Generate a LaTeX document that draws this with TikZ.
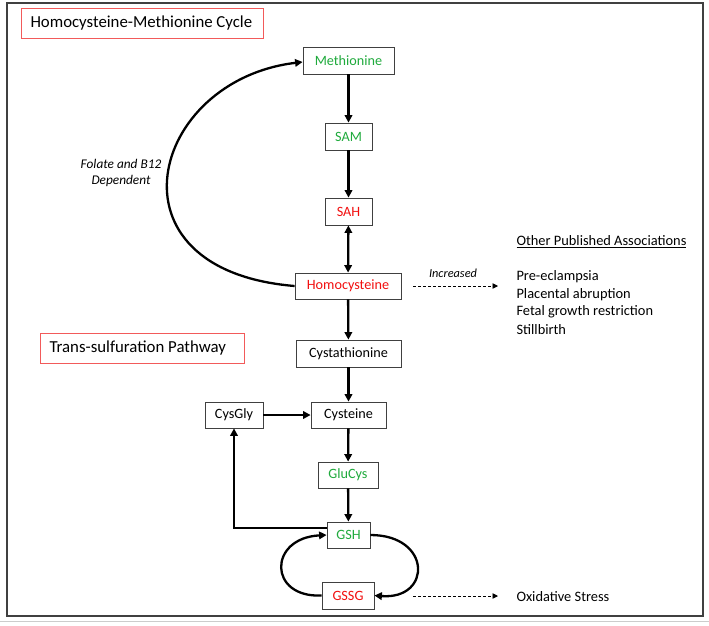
\documentclass[tikz,border=0pt]{standalone}
\usepackage{fontspec}
\setmainfont{Carlito}
\usetikzlibrary{arrows.meta}
\definecolor{mgreen}{HTML}{1FAA3C}
\definecolor{mred}{HTML}{F20F0F}
\definecolor{tred}{HTML}{F25A5A}
\definecolor{bgrey}{HTML}{404040}
\tikzset{
  mbox/.style={draw=bgrey, line width=0.8pt, rectangle, inner sep=0pt, font=\fontsize{14.2}{16}\selectfont, fill=white},
  tbox/.style={draw=tred, line width=0.8pt, rectangle, inner sep=0pt, anchor=north west},
  ttext/.style={font=\fontsize{16.8}{19}\selectfont, anchor=west},
  flow/.style={line width=2.3pt, -{Triangle[length=7.5pt,width=7.5pt]}},
  dflow/.style={line width=0.7pt, dash pattern=on 3pt off 2pt, -{Triangle[length=5.5pt,width=5.5pt]}},
  plain/.style={font=\fontsize{14.4}{16}\selectfont},
  lab/.style={font=\fontsize{13.3}{15.5}\selectfont\itshape},
}
\begin{document}
\begin{tikzpicture}[x=1pt,y=-1pt]
\useasboundingbox (0,0) rectangle (709,625);
\fill[white] (0,0) rectangle (709,625);
\draw[black!20, line width=1pt] (0,621) -- (709,621);
\draw[bgrey, line width=1.6pt] (7,3) rectangle (703,616);

% titles
\node[tbox, minimum width=242pt, minimum height=30pt] (t1) at (21,8) {};
\node[ttext] (t1t) at (27,23) {Homocysteine-Methionine Cycle};
\node[tbox, minimum width=204pt, minimum height=30pt] (t2) at (40,333) {};
\node[ttext] (t2t) at (46,348) {Trans-sulfuration Pathway};

% boxes
\node[mbox, minimum width=91pt, minimum height=27pt, text=mgreen] (met) at (348.5,60.5) {Methionine};
\node[mbox, minimum width=47pt, minimum height=27pt, text=mgreen] (sam) at (348.5,136.5) {SAM};
\node[mbox, minimum width=47pt, minimum height=27pt, text=mred] (sah) at (348.5,211.5) {SAH};
\node[mbox, minimum width=106pt, minimum height=26pt, text=mred] (hcy) at (348,286) {Homocysteine};
\node[mbox, minimum width=105pt, minimum height=27pt] (cys) at (348.5,353.5) {Cystathionine};
\node[mbox, minimum width=75pt, minimum height=26pt] (cyst) at (348.5,415) {Cysteine};
\node[mbox, minimum width=58pt, minimum height=26pt] (cg) at (234,415) {CysGly};
\node[mbox, minimum width=60pt, minimum height=26pt, text=mgreen] (glu) at (348,475) {GluCys};
\node[mbox, minimum width=43pt, minimum height=26pt, text=mgreen] (gsh) at (348.5,535) {GSH};
\node[mbox, minimum width=52pt, minimum height=27pt, text=mred] (gssg) at (348,595.5) {GSSG};

% main column
\draw[flow] (met) -- (sam);
\draw[flow] (sam) -- (sah);
\draw[line width=2.3pt, {Triangle[length=7.5pt,width=7.5pt]}-{Triangle[length=7.5pt,width=7.5pt]}] (sah) -- (hcy);
\draw[flow] (hcy) -- (cys);
\draw[flow] (cys) -- (cyst);
\draw[flow] (cg) -- (cyst);
\draw[flow] (cyst) -- (glu);
\draw[flow] (glu) -- (gsh);

% folate cycle
\draw[flow] (hcy.west) .. controls (100,270) and (150,80) .. (met.west |- 0,62);
\node[lab, align=center] (fol) at (121,173) {Folate and B12\\Dependent};

% GSH -> CysGly
\coordinate (gshl) at (gsh.west |- 0,528);
\draw[flow] (gshl) -| (cg.south);

% GSH / GSSG cycle
\draw[flow] (gsh.east) .. controls (432,535) and (432,600) .. (gssg.east);
\draw[flow] (gssg.west) .. controls (268,598) and (268,538) .. (gsh.west);

% dashed arrows
\coordinate (a1s) at (413,286);
\coordinate (a1e) at (498,286);
\draw[dflow] (a1s) -- (a1e);
\node[lab, font=\fontsize{12.3}{14}\selectfont\itshape] (inc) at (453,273) {Increased};
\coordinate (a2s) at (413,596);
\coordinate (a2e) at (498,596);
\draw[dflow] (a2s) -- (a2e);
\node[plain, anchor=west] (ox) at (513,596.5) {Oxidative Stress};

% associations
\node[plain, anchor=west] (hd) at (513,242) {\underline{Other Published Associations}};
\node[plain, anchor=west] (l1) at (513,277) {Pre-eclampsia};
\node[plain, anchor=west] (l2) at (513,294.5) {Placental abruption};
\node[plain, anchor=west] (l3) at (513,312) {Fetal growth restriction};
\node[plain, anchor=west] (l4) at (513,329.5) {Stillbirth};
\end{tikzpicture}
\end{document}
